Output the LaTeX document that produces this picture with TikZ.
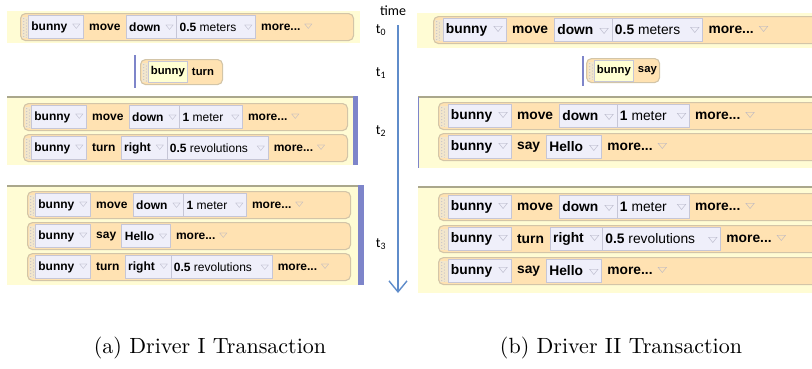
\documentclass[tikz,border=0pt]{standalone}
\usepackage{fontspec}
\usetikzlibrary{arrows.meta}
\newfontfamily\blkfont{Liberation Sans}
\newfontfamily\tfont{Carlito}
\newfontfamily\symfont{DejaVu Sans}
\definecolor{ybg}{HTML}{FFFCD4}
\definecolor{topl}{HTML}{AAA78C}
\definecolor{rowf}{HTML}{FFE2B2}
\definecolor{rowd}{HTML}{D3C5A8}
\definecolor{fldf}{HTML}{EFEFFA}
\definecolor{fldd}{HTML}{C6C6D6}
\definecolor{yfld}{HTML}{FFFFD2}
\definecolor{barc}{HTML}{7E85CA}
\definecolor{arrc}{HTML}{5F8CCA}
\definecolor{tric}{HTML}{B2B2C4}
\definecolor{gripc}{HTML}{F2E6CC}
\newcommand\trS[1][5pt]{\hspace{#1}{\symfont\mdseries\color{tric}\raisebox{1.6pt}{\scalebox{1}[0.62]{\fontsize{10.5}{10}\selectfont ▽}}}\hspace{2pt}}
\newcommand\trL[1][6pt]{\hspace{#1}{\symfont\mdseries\color{tric}\raisebox{1.9pt}{\scalebox{1}[0.62]{\fontsize{12.5}{12}\selectfont ▽}}}\hspace{2.5pt}}
\tikzset{
 row/.style={rectangle, rounded corners=5pt, fill=rowf, draw=rowd, line width=1.1pt,
   minimum height=27pt, inner sep=0pt, anchor=north west},
 grip/.style={rectangle, fill=gripc, minimum width=6pt, minimum height=21pt, inner sep=0pt,
   anchor=west, path picture={\foreach \yy in {2,5,8,11,14,17,20}{
     \fill[tric] ([shift={(1.6,\yy)}]path picture bounding box.north west) circle (0.5pt);
     \fill[tric] ([shift={(4.2,{\yy+1.5})}]path picture bounding box.north west) circle (0.5pt);}}},
 fld/.style={rectangle, fill=fldf, draw=fldd, line width=0.8pt, minimum height=23pt,
   inner xsep=3pt, inner ysep=0pt, anchor=west, outer sep=0pt},
 yf/.style={fld, fill=yfld, inner xsep=2.5pt, minimum height=21pt},
 lbl/.style={rectangle, inner xsep=5.5pt, inner ysep=0pt, anchor=west, minimum height=23pt},
 sm/.style={font=\blkfont\fontsize{12}{14}\selectfont\bfseries},
 smt/.style={font=\blkfont\fontsize{11.3}{13}\selectfont\bfseries},
 lg/.style={font=\blkfont\fontsize{13.8}{16}\selectfont\bfseries},
 bgbox/.style={fill=ybg},
 topline/.style={draw=topl, line width=1.2pt},
 bar/.style={fill=barc},
 vline/.style={draw=barc, line width=1.6pt},
 tl/.style={font=\tfont\fontsize{14}{16}\selectfont, inner sep=0pt},
 captext/.style={inner sep=0pt},
}
\begin{document}
\begin{tikzpicture}[x=1pt,y=-1pt]
\useasboundingbox (0,0) rectangle (812,368);
\begin{scope}
\clip (0,0) rectangle (812,368);

% ================= LEFT PANEL =================
\begin{scope}[sm]
% container 1
\fill[bgbox] (7,11) rectangle (360,43);
\node[row, minimum width=333pt] (L1) at (20,13) {};
\node[grip] (L1g) at ([xshift=2pt]L1.west) {};
\node[fld] (L1a) at (L1g.east) {bunny\trS};
\node[lbl] (L1b) at (L1a.east) {move};
\node[fld] (L1c) at (L1b.east) {down\trS};
\node[fld] (L1d) at (L1c.east) {0.5 \textmd{meters}\trS[8pt]};
\node[lbl] (L1e) at (L1d.east) {more...\trS[4pt]};

% t1 block
\coordinate (Lt1a) at (135,55);
\coordinate (Lt1b) at (135,88);
\draw[vline] (Lt1a) -- (Lt1b);
\node[row, smt, minimum width=82pt, minimum height=25pt] (Lt) at (140,59) {};
\node[grip, minimum height=19pt] (Ltg) at ([xshift=2pt]Lt.west) {};
\node[yf, smt] (Lta) at (Ltg.east) {bunny};
\node[lbl, smt, inner xsep=4.5pt] (Ltb) at (Lta.east) {turn};

% container 2
\fill[bgbox] (7,97) rectangle (353,165);
\draw[topline] (7,97) -- (353,97);
\fill[bar] (353,96.4) rectangle (358,165);
\node[row, minimum width=324pt] (L2) at (23,103) {};
\node[grip] (L2g) at ([xshift=2pt]L2.west) {};
\node[fld] (L2a) at (L2g.east) {bunny\trS};
\node[lbl] (L2b) at (L2a.east) {move};
\node[fld] (L2c) at (L2b.east) {down\trS};
\node[fld] (L2d) at (L2c.east) {1 \textmd{meter}\trS[8pt]};
\node[lbl] (L2e) at (L2d.east) {more...\trS[4pt]};

\node[row, minimum width=324pt] (L3) at (23,134) {};
\node[grip] (L3g) at ([xshift=2pt]L3.west) {};
\node[fld] (L3a) at (L3g.east) {bunny\trS};
\node[lbl] (L3b) at (L3a.east) {turn};
\node[fld] (L3c) at (L3b.east) {right\trS};
\node[fld] (L3d) at (L3c.east) {0.5 \textmd{revolutions}\trS[9pt]};
\node[lbl] (L3e) at (L3d.east) {more...\trS[4pt]};

% container 3
\fill[bgbox] (7,186) rectangle (358,285);
\draw[topline] (7,186) -- (358,186);
\fill[bar] (358,185.4) rectangle (364,285);
\node[row, minimum width=323pt] (L4) at (27,191) {};
\node[grip] (L4g) at ([xshift=2pt]L4.west) {};
\node[fld] (L4a) at (L4g.east) {bunny\trS};
\node[lbl] (L4b) at (L4a.east) {move};
\node[fld] (L4c) at (L4b.east) {down\trS};
\node[fld] (L4d) at (L4c.east) {1 \textmd{meter}\trS[8pt]};
\node[lbl] (L4e) at (L4d.east) {more...\trS[4pt]};

\node[row, minimum width=323pt] (L5) at (27,222) {};
\node[grip] (L5g) at ([xshift=2pt]L5.west) {};
\node[fld] (L5a) at (L5g.east) {bunny\trS};
\node[lbl] (L5b) at (L5a.east) {say};
\node[fld] (L5c) at (L5b.east) {Hello\trS};
\node[lbl] (L5d) at (L5c.east) {more...\trS[4pt]};

\node[row, minimum width=323pt] (L6) at (27,253) {};
\node[grip] (L6g) at ([xshift=2pt]L6.west) {};
\node[fld] (L6a) at (L6g.east) {bunny\trS};
\node[lbl] (L6b) at (L6a.east) {turn};
\node[fld] (L6c) at (L6b.east) {right\trS};
\node[fld] (L6d) at (L6c.east) {0.5 \textmd{revolutions}\trS[9pt]};
\node[lbl] (L6e) at (L6d.east) {more...\trS[4pt]};
\end{scope}

% ================= TIME AXIS =================
\node[tl] (time) at (393,11) {time};
\node[tl] (t0) at (381,30) {t\textsubscript{0}};
\node[tl] (t1) at (381,73) {t\textsubscript{1}};
\node[tl] (t2) at (381,131) {t\textsubscript{2}};
\node[tl] (t3) at (381,244) {t\textsubscript{3}};
\coordinate (ta) at (398,25);
\coordinate (tb) at (398,293);
\draw[arrc, line width=1.4pt, -{Straight Barb[length=11pt,width=18pt,line width=1.4pt]}] (ta) -- (tb);

% ================= RIGHT PANEL =================
\begin{scope}[lg]
% container 1
\fill[bgbox] (417,13) rectangle (812,48);
\node[row, minimum width=400pt] (R1) at (433,16) {};
\node[grip, minimum width=7.5pt] (R1g) at ([xshift=2pt]R1.west) {};
\node[fld] (R1a) at (R1g.east) {bunny\trL};
\node[lbl, inner xsep=6pt] (R1b) at (R1a.east) {move};
\node[fld] (R1c) at (R1b.east) {down\trL};
\node[fld] (R1d) at (R1c.east) {0.5 \textmd{meters}\trL[10pt]};
\node[lbl] (R1e) at (R1d.east) {more...\trL[5pt]};

% t1 block
\coordinate (Rt1a) at (583,56);
\coordinate (Rt1b) at (583,86);
\draw[vline] (Rt1a) -- (Rt1b);
\node[row, minimum width=73pt, minimum height=24pt] (Rt) at (586,58) {};
\node[grip, minimum height=18pt] (Rtg) at ([xshift=2pt]Rt.west) {};
\node[yf, smt] (Rta) at (Rtg.east) {bunny};
\node[lbl, smt, inner xsep=4.5pt] (Rtb) at (Rta.east) {say};

% container 2
\fill[bgbox] (418,97) rectangle (812,168);
\draw[topline] (418,97) -- (812,97);
\draw[vline, line width=1.3pt] (418.6,97) -- (418.6,168);
\node[row, minimum width=400pt] (R2) at (438,102) {};
\node[grip, minimum width=7.5pt] (R2g) at ([xshift=2pt]R2.west) {};
\node[fld] (R2a) at (R2g.east) {bunny\trL};
\node[lbl, inner xsep=6pt] (R2b) at (R2a.east) {move};
\node[fld] (R2c) at (R2b.east) {down\trL};
\node[fld] (R2d) at (R2c.east) {1 \textmd{meter}\trL[10pt]};
\node[lbl] (R2e) at (R2d.east) {more...\trL[5pt]};

\node[row, minimum width=400pt] (R3) at (438,133) {};
\node[grip, minimum width=7.5pt] (R3g) at ([xshift=2pt]R3.west) {};
\node[fld] (R3a) at (R3g.east) {bunny\trL};
\node[lbl, inner xsep=6pt] (R3b) at (R3a.east) {say};
\node[fld] (R3c) at (R3b.east) {Hello\trL};
\node[lbl] (R3d) at (R3c.east) {more...\trL[5pt]};

% container 3
\fill[bgbox] (418,187) rectangle (812,293);
\draw[topline] (418,187) -- (812,187);
\node[row, minimum width=400pt] (R4) at (438,193) {};
\node[grip, minimum width=7.5pt] (R4g) at ([xshift=2pt]R4.west) {};
\node[fld] (R4a) at (R4g.east) {bunny\trL};
\node[lbl, inner xsep=6pt] (R4b) at (R4a.east) {move};
\node[fld] (R4c) at (R4b.east) {down\trL};
\node[fld] (R4d) at (R4c.east) {1 \textmd{meter}\trL[10pt]};
\node[lbl] (R4e) at (R4d.east) {more...\trL[5pt]};

\node[row, minimum width=400pt] (R5) at (438,225) {};
\node[grip, minimum width=7.5pt] (R5g) at ([xshift=2pt]R5.west) {};
\node[fld] (R5a) at (R5g.east) {bunny\trL};
\node[lbl, inner xsep=6pt] (R5b) at (R5a.east) {turn};
\node[fld] (R5c) at (R5b.east) {right\trL};
\node[fld] (R5d) at (R5c.east) {0.5 \textmd{revolutions}\trL[13pt]};
\node[lbl] (R5e) at (R5d.east) {more...\trL[5pt]};

\node[row, minimum width=400pt] (R6) at (438,257) {};
\node[grip, minimum width=7.5pt] (R6g) at ([xshift=2pt]R6.west) {};
\node[fld] (R6a) at (R6g.east) {bunny\trL};
\node[lbl, inner xsep=6pt] (R6b) at (R6a.east) {say};
\node[fld] (R6c) at (R6b.east) {Hello\trL};
\node[lbl] (R6d) at (R6c.east) {more...\trL[5pt]};
\end{scope}

% ================= CAPTIONS =================
\node[captext] (capa) at (210,348) {\scalebox{2.2}{(a) Driver I Transaction}};
\node[captext] (capb) at (621,348) {\scalebox{2.2}{(b) Driver II Transaction}};
\end{scope}
\end{tikzpicture}
\end{document}
